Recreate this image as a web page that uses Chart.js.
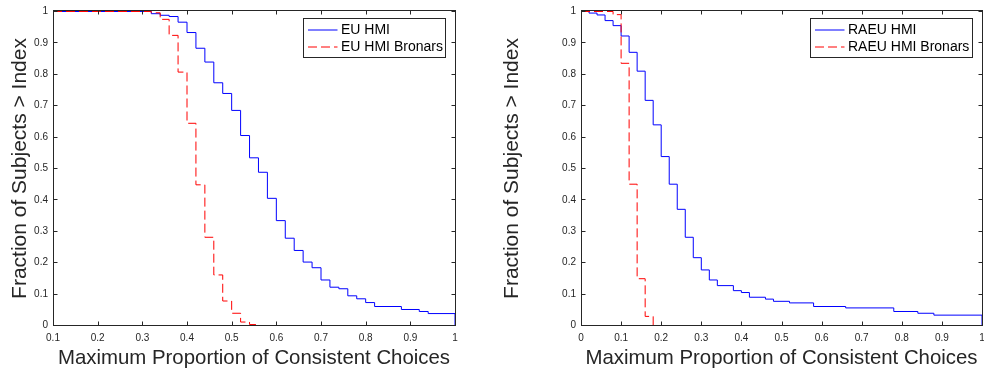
<!DOCTYPE html>
<html>
<head>
<meta charset="utf-8">
<script src="https://cdn.jsdelivr.net/npm/chart.js@4.4.1/dist/chart.umd.min.js"></script>
<style>
  html, body { margin: 0; padding: 0; background: #fff; }
  #wrap { position: relative; width: 984px; height: 375px; }
  canvas { position: absolute; top: 0; }
  #left-chart { left: 0; }
  #right-chart { left: 492px; }
</style>
</head>
<body>
<div id="wrap">
  <canvas id="left-chart" width="492" height="375"></canvas>
  <canvas id="right-chart" width="492" height="375"></canvas>
</div>
<script>
// step edges (x) and the fraction of subjects from that edge on (y)
const euHmiX = [0.1, 0.32, 0.34, 0.36, 0.38, 0.40, 0.42, 0.44, 0.46, 0.48, 0.50, 0.52, 0.54, 0.56, 0.58, 0.60,
  0.62, 0.64, 0.66, 0.68, 0.70, 0.72, 0.74, 0.76, 0.78, 0.80, 0.82, 0.88, 0.92, 0.94, 1.0]
const euHmiY = [1, 0.993, 0.988, 0.984, 0.966, 0.933, 0.883, 0.839, 0.773, 0.739, 0.685, 0.605, 0.534, 0.488, 0.405, 0.334,
  0.278, 0.239, 0.202, 0.184, 0.145, 0.122, 0.117, 0.0945, 0.085, 0.073, 0.0605, 0.051, 0.0446, 0.038, 0]

const euBronarsX = [0.1, 0.32, 0.34, 0.36, 0.38, 0.40, 0.42, 0.44, 0.46, 0.48, 0.50, 0.52, 0.54, 0.56]
const euBronarsY = [1, 0.996, 0.975, 0.924, 0.807, 0.644, 0.448, 0.281, 0.161, 0.078, 0.039, 0.011, 0.003, 0]

const raeuHmiX = [0, 0.02, 0.04, 0.06, 0.08, 0.10, 0.12, 0.14, 0.16, 0.18, 0.20, 0.22, 0.24, 0.26, 0.28, 0.30,
  0.32, 0.34, 0.38, 0.40, 0.42, 0.46, 0.48, 0.52, 0.58, 0.66, 0.78, 0.84, 0.88, 1.0]
const raeuHmiY = [1, 0.995, 0.989, 0.971, 0.955, 0.922, 0.870, 0.810, 0.717, 0.639, 0.538, 0.450, 0.370, 0.281, 0.216, 0.177,
  0.145, 0.127, 0.111, 0.105, 0.090, 0.084, 0.077, 0.072, 0.0605, 0.056, 0.0446, 0.039, 0.033, 0]

const raeuBronarsX = [0, 0.08, 0.10, 0.12, 0.14, 0.16, 0.18, 0.20]
const raeuBronarsY = [1, 0.99, 0.835, 0.45, 0.149, 0.029, 0, 0]

const yTicks = [0, 0.1, 0.2, 0.3, 0.4, 0.5, 0.6, 0.7, 0.8, 0.9, 1]
const leftXTicks = [0.1, 0.2, 0.3, 0.4, 0.5, 0.6, 0.7, 0.8, 0.9, 1]
const rightXTicks = [0, 0.1, 0.2, 0.3, 0.4, 0.5, 0.6, 0.7, 0.8, 0.9, 1]

const ink = '#262626'
const family = '"Liberation Sans", Arial, Helvetica, sans-serif'

function points(xs, ys) {
    return xs.map(function (x, i) { return {x: x, y: ys[i]} })
}

function fmt(v) {
    return String(Math.round(v * 10) / 10)  // 1 not 1.0
}

// matlab look: full box, ticks pointing inwards, boxed legend top right
const matlabFrame = {
    id: 'matlabFrame',
    afterDatasetsDraw(chart) {
        const ctx = chart.ctx
        const a = chart.chartArea
        const sx = chart.scales.x
        const sy = chart.scales.y
        let L = Math.round(a.left) + 0.5
        let R = Math.round(a.right) + 0.5
        let T = Math.floor(a.top) - 0.5
        let B = Math.floor(a.bottom) + 0.5
        ctx.save()
        ctx.strokeStyle = ink
        ctx.lineWidth = 1
        ctx.setLineDash([])
        ctx.strokeRect(L, T, R - L, B - T)

        ctx.beginPath()
        sx.ticks.forEach(function (t) {
            let px = Math.round(sx.getPixelForValue(t.value)) + 0.5
            ctx.moveTo(px, B); ctx.lineTo(px, B - 4)
            ctx.moveTo(px, T); ctx.lineTo(px, T + 4)
        })
        sy.ticks.forEach(function (t) {
            let py = Math.floor(sy.getPixelForValue(t.value)) + 0.5
            ctx.moveTo(L, py); ctx.lineTo(L + 4, py)
            ctx.moveTo(R, py); ctx.lineTo(R - 4, py)
        })
        ctx.stroke()

        // legend
        ctx.font = '14px ' + family
        let sets = chart.data.datasets
        let textW = Math.max.apply(null, sets.map(function (d) { return ctx.measureText(d.label).width }))
        let w = 4.5 + 29.5 + 3.5 + textW + 3
        let right = Math.round(a.right - 10.5) + 0.5
        let left = right - Math.round(w)
        let top = Math.round(a.top + 6) + 0.5
        ctx.fillStyle = '#fff'
        ctx.fillRect(left, top, right - left, 39)
        ctx.strokeStyle = ink
        ctx.strokeRect(left, top, right - left, 39)
        sets.forEach(function (d, i) {
            let y = top + 11.5 + i * 17
            ctx.beginPath()
            ctx.strokeStyle = d.borderColor
            ctx.setLineDash(d.borderDash || [])
            ctx.moveTo(left + 4.5, y); ctx.lineTo(left + 34, y)
            ctx.stroke()
            ctx.fillStyle = '#000'
            ctx.textBaseline = 'middle'
            ctx.textAlign = 'left'
            ctx.fillText(d.label, left + 37.5, y + 0.5)
        })
        ctx.restore()
    }
}

function makeChart(canvasId, xMin, xTicks, yAxisWidth, padRight, blue, red) {
    let ctx = document.getElementById(canvasId).getContext('2d')
    return new Chart(ctx, {
        type: 'line',
        data: {
            datasets: [
                {label: blue.label, data: blue.data, borderColor: '#0000ff', borderWidth: 1, clip: 3,
                    stepped: 'before', pointRadius: 0, fill: false, order: 1},
                {label: red.label, data: red.data, borderColor: '#ff0000', borderWidth: 1, borderDash: [9, 4], clip: 3,
                    stepped: 'before', pointRadius: 0, fill: false, order: 0}
            ]
        },
        options: {
            responsive: false,
            animation: false,
            layout: {padding: {top: 11.5, right: padRight, left: 0, bottom: 0}},
            plugins: {legend: {display: false}, tooltip: {enabled: false}},
            scales: {
                x: {
                    type: 'linear', min: xMin, max: 1,
                    afterBuildTicks: function (s) { s.ticks = xTicks.map(function (v) { return {value: v} }) },
                    afterFit: function (s) { s.height = 49.5; s.paddingLeft = 0; s.paddingRight = 0 },
                    grid: {display: false, drawTicks: false},
                    border: {display: false},
                    ticks: {color: ink, font: {size: 10, family: family}, padding: 7, callback: fmt,
                        maxRotation: 0, autoSkip: false},
                    title: {display: true, text: 'Maximum Proportion of Consistent Choices', color: ink,
                        font: {size: 20.4, family: family}, padding: {top: 0, bottom: 4}}
                },
                y: {
                    type: 'linear', min: 0, max: 1,
                    afterBuildTicks: function (s) { s.ticks = yTicks.map(function (v) { return {value: v} }) },
                    afterFit: function (s) { s.width = yAxisWidth; s.paddingTop = 0; s.paddingBottom = 0 },
                    grid: {display: false, drawTicks: false},
                    border: {display: false},
                    ticks: {color: ink, font: {size: 10, family: family}, padding: 5, callback: fmt, autoSkip: false},
                    title: {display: true, text: 'Fraction of Subjects > Index', color: ink,
                        font: {size: 21, family: family}, padding: {top: 8, bottom: 0}}
                }
            }
        },
        plugins: [matlabFrame]
    })
}

makeChart('left-chart', 0.1, leftXTicks, 53, 37,
    {label: 'EU HMI', data: points(euHmiX, euHmiY)},
    {label: 'EU HMI Bronars', data: points(euBronarsX, euBronarsY)})

makeChart('right-chart', 0, rightXTicks, 89, 2,
    {label: 'RAEU HMI', data: points(raeuHmiX, raeuHmiY)},
    {label: 'RAEU HMI Bronars', data: points(raeuBronarsX, raeuBronarsY)})
</script>
</body>
</html>
